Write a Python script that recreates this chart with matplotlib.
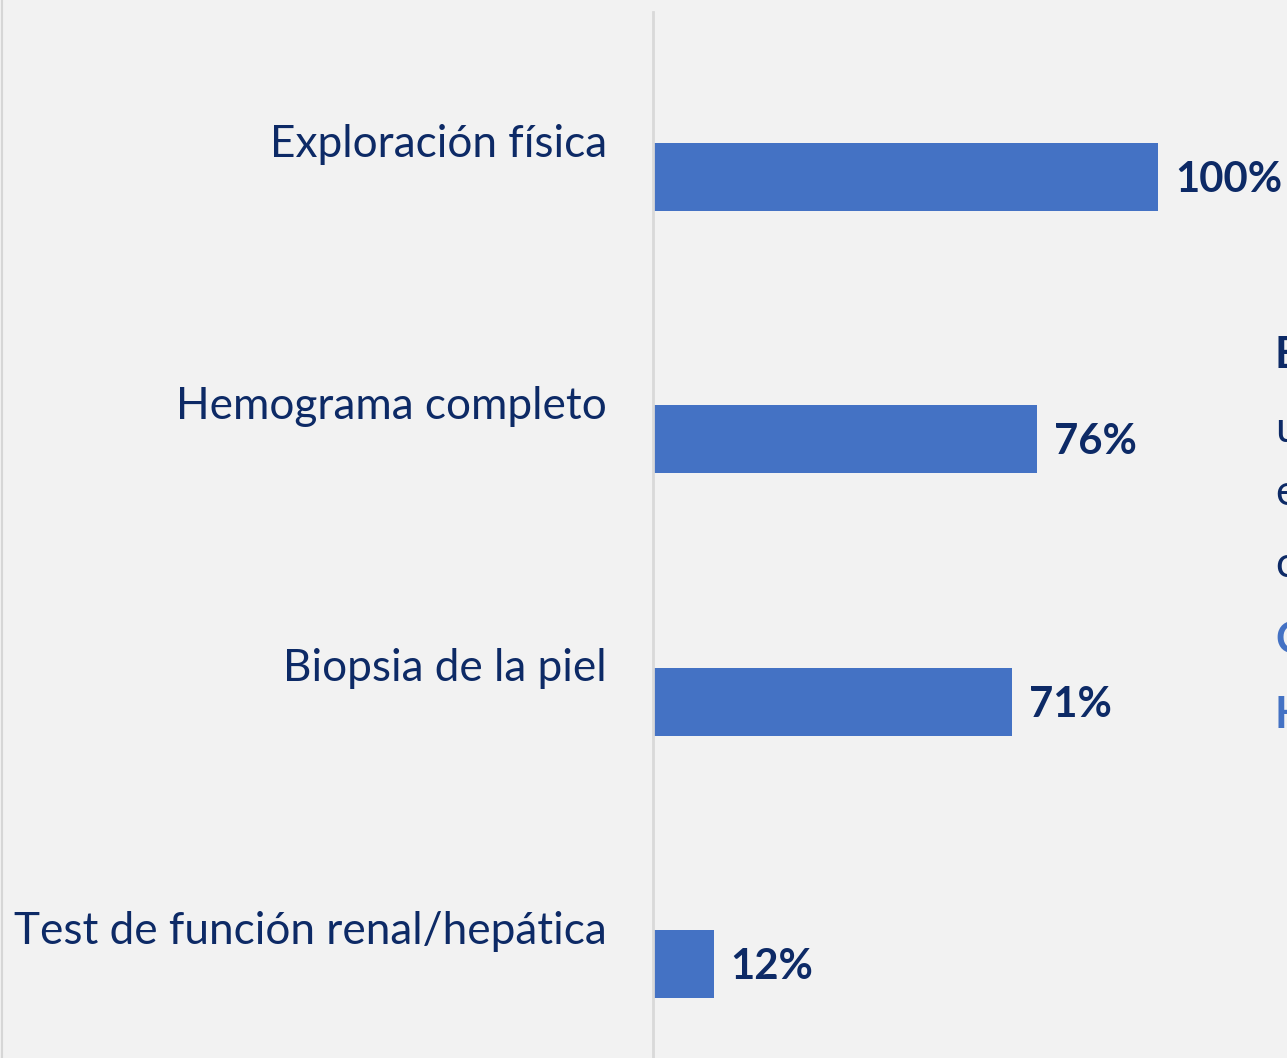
"""Horizontal bar chart: pruebas diagnósticas realizadas."""

import matplotlib

matplotlib.use("Agg")
import matplotlib.pyplot as plt

categories = [
    "Exploración física",
    "Hemograma completo",
    "Biopsia de la piel",
    "Test de función renal/hepática",
]
values = [100, 76, 71, 12]
value_labels = ["100%", "76%", "71%", "12%"]

# letters of a side text block that is cut off by the right edge
side_letters = ["E", "u", "e", "c", "C", "H"]
side_bold = [True, False, False, False, True, True]
side_colors = ["#0D2A66", "#0D2A66", "#0D2A66", "#0D2A66", "#4472C4", "#4472C4"]

BG = "#F2F2F2"
BAR = "#4472C4"
NAVY = "#0D2A66"
W, H = 1287, 1058

plt.rcParams["font.family"] = ["Lato", "DejaVu Sans"]

fig = plt.figure(figsize=(W / 100, H / 100), dpi=100, facecolor=BG)

# axes spans from the vertical axis line to the right edge
x0 = 653
ax = fig.add_axes([x0 / W, 0, (W - x0) / W, (H - 12) / H])
ax.set_facecolor(BG)

px_per_unit = (1159 - 654) / 100
ax.set_xlim(0, (W - x0) / px_per_unit)
step = 262.5
ax.set_ylim(3 + 94 / step, -(177 - 12) / step)

pos = list(range(len(categories)))
bar_h = 68 / step
ax.barh(pos, values, height=bar_h, color=BAR)

for p, cat, v, lab in zip(pos, categories, values, value_labels):
    ax.text(-(653 - 607) / px_per_unit, p - bar_h / 2 + 0.005, cat, ha="right",
            va="center", fontsize=31.8, color=NAVY, clip_on=False)
    ax.text(v + 17 / px_per_unit, p + 0.012, lab, ha="left", va="center",
            fontsize=30.2, fontweight="bold", color=NAVY)

for sp in ["top", "right", "bottom"]:
    ax.spines[sp].set_visible(False)
ax.spines["left"].set_color("#D9D9D9")
ax.spines["left"].set_linewidth(2)
ax.set_xticks([])
ax.set_yticks([])

# faint border at the left edge of the slide
fig.add_artist(plt.Line2D([1.5 / W, 1.5 / W], [0, 1], color="#D6D6D6", lw=1.5,
                          transform=fig.transFigure))

side_y = [355, 430, 493, 565, 640, 715]
for letter, y, b, c in zip(side_letters, side_y, side_bold, side_colors):
    fig.text(1275 / W, 1 - y / H, letter, ha="left", va="center", fontsize=31,
             fontweight="bold" if b else "normal", color=c)

fig.savefig("out.png", dpi=100, facecolor=BG)
